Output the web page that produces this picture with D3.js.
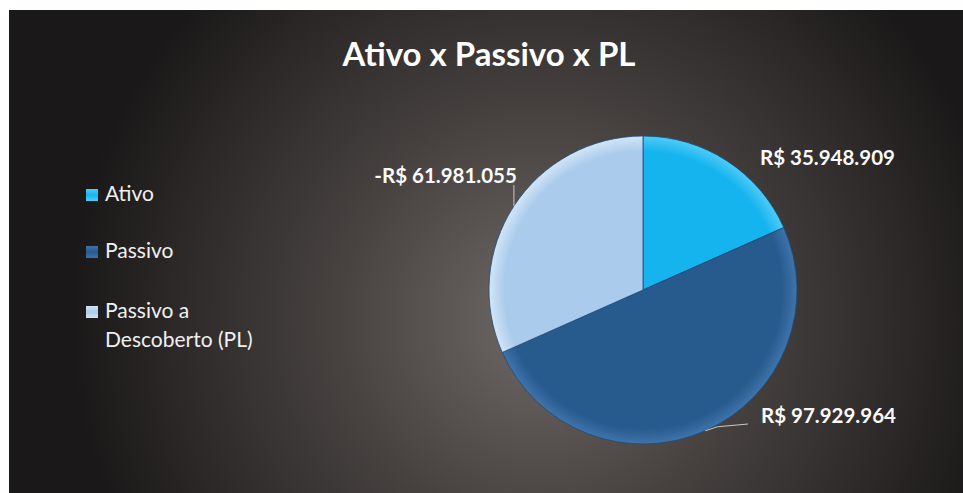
<!DOCTYPE html>
<html lang="pt">
<head>
  <meta charset="UTF-8">
  <title>Ativo x Passivo x PL</title>
  <script src="https://d3js.org/d3.v7.min.js"></script>
  <style>
    html, body { margin: 0; padding: 0; background: #fff; }
    text { font-family: Lato, "Open Sans", sans-serif; }
  </style>
</head>
<body>
  <div id="chart"></div>
  <script>
    // dados
    const categories = ['Ativo', 'Passivo', 'Passivo a Descoberto (PL)']
    const legendLines = [['Ativo'], ['Passivo'], ['Passivo a', 'Descoberto (PL)']]
    const values = [35948909, 97929964, -61981055]
    const title = 'Ativo x Passivo x PL'

    const colors = ['#16b4ee', '#275a8d', '#aacbec']
    const rims = ['#4fcbf8', '#3f74ab', '#d2e5f7']

    const W = 963, H = 493
    const cx = 643, cy = 290, radius = 154

    const br = d3.formatLocale({
      decimal: ',', thousands: '.', grouping: [3],
      currency: ['R$ ', ''], minus: '-'
    })
    const money = br.format('$,.0f')

    const svg = d3.select('#chart').append('svg')
      .attr('width', W)
      .attr('height', H)

    const defs = svg.append('defs')
    const bg = defs.append('radialGradient')
      .attr('id', 'bg')
      .attr('gradientUnits', 'userSpaceOnUse')
      .attr('cx', 540).attr('cy', 320).attr('r', 470)
    bg.append('stop').attr('offset', '0%').attr('stop-color', '#6e6866')
    bg.append('stop').attr('offset', '45%').attr('stop-color', '#46413f')
    bg.append('stop').attr('offset', '100%').attr('stop-color', '#1a1818')

    colors.forEach((c, i) => {
      // the slice paths sit in a group translated to the centre, so 0,0 here
      const g = defs.append('radialGradient')
        .attr('id', 'slice' + i)
        .attr('gradientUnits', 'userSpaceOnUse')
        .attr('cx', 0).attr('cy', 0).attr('r', radius)
      g.append('stop').attr('offset', '0%').attr('stop-color', c)
      g.append('stop').attr('offset', '90%').attr('stop-color', c)
      g.append('stop').attr('offset', '100%').attr('stop-color', rims[i])

      const lg = defs.append('linearGradient')
        .attr('id', 'leg' + i)
        .attr('x1', 0).attr('y1', 0).attr('x2', 0).attr('y2', 1)
      lg.append('stop').attr('offset', '0%').attr('stop-color', rims[i])
      lg.append('stop').attr('offset', '50%').attr('stop-color', c)
      lg.append('stop').attr('offset', '100%').attr('stop-color', rims[i])
    })

    svg.append('rect')
      .attr('x', 9).attr('y', 10)
      .attr('width', W - 9).attr('height', H - 10)
      .attr('fill', 'url(#bg)')

    svg.append('text')
      .attr('x', 489).attr('y', 66)
      .attr('text-anchor', 'middle')
      .attr('fill', '#fff')
      .style('font-size', '33px')
      .style('font-weight', 'bold')
      .text(title)

    // pizza
    const pie = d3.pie()
      .sort(null)
      .value(d => Math.abs(d))

    const arc = d3.arc()
      .innerRadius(0)
      .outerRadius(radius)

    const arcs = pie(values)

    const g = svg.append('g')
      .attr('transform', `translate(${cx},${cy})`)

    g.selectAll('path.slice')
      .data(arcs)
      .enter().append('path')
      .attr('class', 'slice')
      .attr('d', arc)
      .attr('fill', (d, i) => `url(#slice${i})`)
      .attr('stroke', '#1d4a78')
      .attr('stroke-width', 0.8)

    // rótulos
    const mid = d => (d.startAngle + d.endAngle) / 2
    const edge = (d, r) => [Math.sin(mid(d)) * r, -Math.cos(mid(d)) * r]

    const labelAnchor = [
      { dx: 117, dy: -125, anchor: 'start', leader: null },
      { dx: 118, dy: 133, anchor: 'start', leader: 'h' },
      { dx: -126, dy: -107, anchor: 'end', leader: 'v' }
    ]

    arcs.forEach((d, i) => {
      const la = labelAnchor[i]
      const p = edge(d, radius)
      if (la.leader === 'h') {
        g.append('path')
          .attr('d', `M${p[0]},${p[1]} L${p[0] + 12},${p[1] - 4} L${la.dx - 13},${la.dy + 1}`)
          .attr('fill', 'none')
          .attr('stroke', '#c8c8c8')
          .attr('stroke-width', 1)
      } else if (la.leader === 'v') {
        g.append('path')
          .attr('d', `M${p[0]},${p[1]} L${p[0]},${la.dy + 2}`)
          .attr('fill', 'none')
          .attr('stroke', '#c8c8c8')
          .attr('stroke-width', 1)
      }
      g.append('text')
        .attr('x', la.anchor === 'end' ? p[0] + 3 : la.dx)
        .attr('y', la.dy)
        .attr('text-anchor', la.anchor)
        .attr('fill', '#fafafa')
        .style('font-size', '20.5px')
        .style('font-weight', 'bold')
        .text(money(values[i]))
    })

    // legenda
    const legend = svg.append('g')
      .attr('transform', 'translate(86,201)')

    const item = legend.selectAll('g.item')
      .data(categories)
      .enter().append('g')
      .attr('class', 'item')
      .attr('transform', (d, i) => `translate(0,${[0, 57, 117][i]})`)

    item.append('rect')
      .attr('x', 0).attr('y', -12)
      .attr('width', 12).attr('height', 12)
      .attr('fill', (d, i) => `url(#leg${i})`)

    item.each(function (d, i) {
      const t = d3.select(this).append('text')
        .attr('x', 19).attr('y', 0)
        .attr('fill', '#f0f0f0')
        .style('font-size', '21px')
      legendLines[i].forEach((line, k) => {
        t.append('tspan')
          .attr('x', 19)
          .attr('dy', k === 0 ? 0 : 29)
          .text(line)
      })
    })
  </script>
</body>
</html>
